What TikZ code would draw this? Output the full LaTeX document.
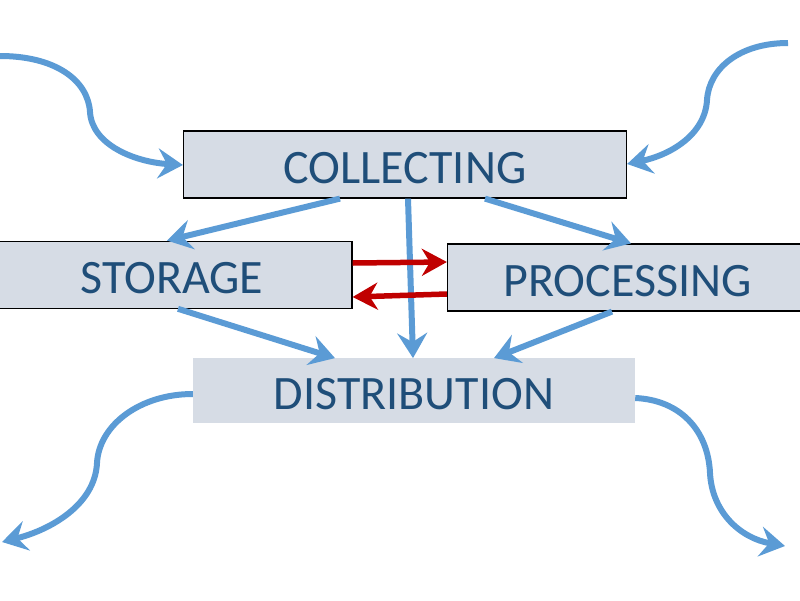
\documentclass[tikz,border=0pt]{standalone}
\usepackage{fontspec}
\setmainfont{Carlito}
\usetikzlibrary{arrows.meta}
\definecolor{boxfill}{HTML}{D6DCE5}
\definecolor{boxtext}{HTML}{1F4E79}
\definecolor{flowblue}{HTML}{5B9BD5}
\definecolor{flowred}{HTML}{C00000}
\tikzset{
  stagebox/.style={rectangle, fill=boxfill, inner sep=0pt, text=boxtext,
    font=\fontsize{48}{56}\selectfont, align=center,
    text height=37pt, text depth=0pt},
  framed/.style={draw=black, line width=1.2pt},
  blueflow/.style={draw=flowblue, line width=6pt,
    -{Stealth[length=25pt,width=30pt,inset=9pt]}},
  redflow/.style={draw=flowred, line width=5.5pt,
    -{Stealth[length=25pt,width=27pt,inset=8pt]}}
}
\begin{document}
\begin{tikzpicture}[x=1pt,y=-1pt]
\useasboundingbox (0,0) rectangle (800,600);
\node[stagebox, framed, minimum width=443pt, minimum height=67pt] (c) at (405,164.5) {COLLECTING};
\node[stagebox, framed, minimum width=360pt, minimum height=67pt] (s) at (172,274.7) {STORAGE};
\node[stagebox, framed, minimum width=360pt, minimum height=67pt] (p) at (627.5,277.5) {PROCESSING};
\node[stagebox, minimum width=442pt, minimum height=65pt] (d) at (414,390.8) {DISTRIBUTION};

\coordinate (tl) at (0,56);
\coordinate (tr) at (788,43);
\coordinate (bl) at (2,542);
\coordinate (br) at (785,546);

% straight flows
\draw[blueflow] (c.south -| 340,0) -- (s.north -| 167,0);
\draw[blueflow] (c.south -| 408,0) -- (d.north -| 413,0);
\draw[blueflow] (c.south -| 485,0) -- (p.north -| 631,0);
\draw[blueflow] (s.south -| 178,0) -- (d.north -| 335,0);
\draw[blueflow] (p.south -| 612,0) -- (d.north -| 494,0);

% exchange
\draw[redflow] (s.east |- 0,263) -- (p.west |- 0,262);
\draw[redflow] (p.west |- 0,294) -- (s.east |- 0,297);

% curved inputs/outputs
\draw[blueflow] (tl) .. controls (55,56) and (88,80) .. (90,112)
  .. controls (92,145) and (135,162) .. (c.west |- 0,165);
\draw[blueflow] (tr) .. controls (740,43) and (709,68) .. (707,100)
  .. controls (705,135) and (670,155) .. (c.east |- 0,164);
\draw[blueflow] (d.west |- 0,394) .. controls (140,394) and (99,425) .. (97,463)
  .. controls (95,505) and (50,530) .. (bl);
\draw[blueflow] (d.east |- 0,398) .. controls (680,400) and (708,430) .. (710,473)
  .. controls (712,512) and (740,538) .. (br);
\end{tikzpicture}
\end{document}
